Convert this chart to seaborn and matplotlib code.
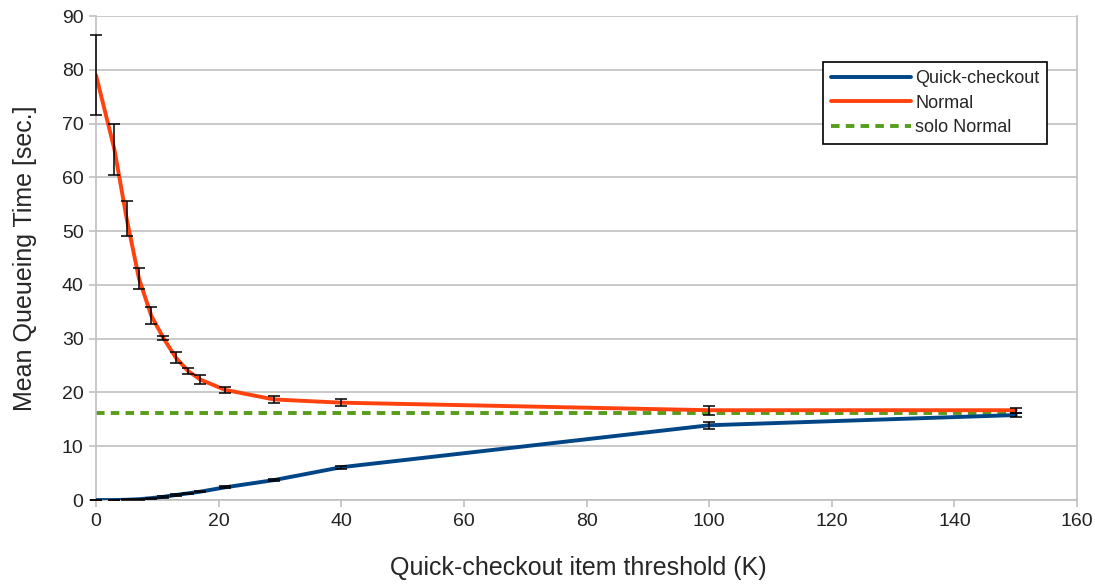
import pandas as pd
import numpy as np
import matplotlib.pyplot as plt
import seaborn as sns
from matplotlib.lines import Line2D

# threshold K values
thresholds = [0, 3, 5, 7, 9, 11, 13, 15, 17, 21, 29, 40, 100, 150]

quick_mean = [0.0, 0.0, 0.05, 0.15, 0.35, 0.6, 0.93, 1.24, 1.55, 2.35, 3.7, 6.1, 13.9, 15.8]
quick_err = [0.05, 0.05, 0.1, 0.1, 0.1, 0.15, 0.15, 0.15, 0.15, 0.2, 0.2, 0.25, 0.7, 0.4]

normal_mean = [79.0, 65.2, 52.3, 41.2, 34.3, 30.1, 26.5, 24.0, 22.4, 20.5, 18.7, 18.1, 16.7, 16.7]
normal_err = [7.5, 4.8, 3.3, 2.0, 1.5, 0.35, 0.95, 0.6, 0.9, 0.55, 0.6, 0.6, 0.8, 0.5]

solo_normal = 16.2
solo_range = [0, 150]

sns.set_style("white")
plt.rcParams['font.family'] = ['Liberation Sans', 'DejaVu Sans']

df = pd.DataFrame({
    'K': thresholds * 2,
    'time': quick_mean + normal_mean,
    'series': ['Quick-checkout'] * len(thresholds) + ['Normal'] * len(thresholds),
})

colors = {'Quick-checkout': '#004586', 'Normal': '#ff420e'}
dash = (0, (2.2, 1.6))

fig = plt.figure(figsize=(10.95, 5.84), dpi=100)
ax = fig.add_axes([0.0877, 0.1438, 0.8959, 0.8288])

sns.lineplot(data=df, x='K', y='time', hue='series', palette=colors,
             linewidth=2.8, ax=ax, legend=False, zorder=3)
ax.plot(solo_range, [solo_normal, solo_normal], color='#579d1c', linewidth=2.8,
        linestyle=dash, zorder=2)

for m, e in [(quick_mean, quick_err), (normal_mean, normal_err)]:
    eb = ax.errorbar(thresholds, m, yerr=e, fmt='none', ecolor='black',
                     elinewidth=1.1, capsize=4, capthick=1.1, zorder=4)
    for art in list(eb.lines[1]) + list(eb.lines[2]):
        art.set_clip_on(False)

ax.set_xlim(0, 160)
ax.set_ylim(0, 90)
ax.set_xticks(np.arange(0, 161, 20))
ax.set_yticks(np.arange(0, 91, 10))
ax.yaxis.grid(True, color='#c0c0c0', linewidth=1.2)
ax.xaxis.grid(False)

for side in ['left', 'right', 'bottom']:
    ax.spines[side].set_color('#c0c0c0')
    ax.spines[side].set_linewidth(1.2)
ax.spines['top'].set_visible(False)

ax.tick_params(axis='both', which='both', direction='out', length=5, width=1.2,
               color='#c0c0c0', labelsize=14, labelcolor='#222222', pad=4,
               bottom=True, left=True)

ax.set_xlabel('Quick-checkout item threshold (K)', fontsize=18, labelpad=20)
ax.set_ylabel('Mean Queueing Time [sec.]', fontsize=18, labelpad=18)
ax.xaxis.set_label_coords(0.5 - 8 / 981, -0.115)

handles = [
    Line2D([], [], color='#004586', linewidth=2.8),
    Line2D([], [], color='#ff420e', linewidth=2.8),
    Line2D([], [], color='#579d1c', linewidth=2.8, linestyle=dash),
]
leg = ax.legend(handles, ['Quick-checkout', 'Normal', 'solo Normal'],
                loc='upper left', bbox_to_anchor=(0.741, 0.905), fontsize=13,
                frameon=True, fancybox=False, edgecolor='black', framealpha=1,
                handlelength=4.4, handletextpad=0.25, borderpad=0.45,
                labelspacing=0.42, borderaxespad=0)
leg.get_frame().set_linewidth(1.2)

fig.savefig('out.png', dpi=100)
